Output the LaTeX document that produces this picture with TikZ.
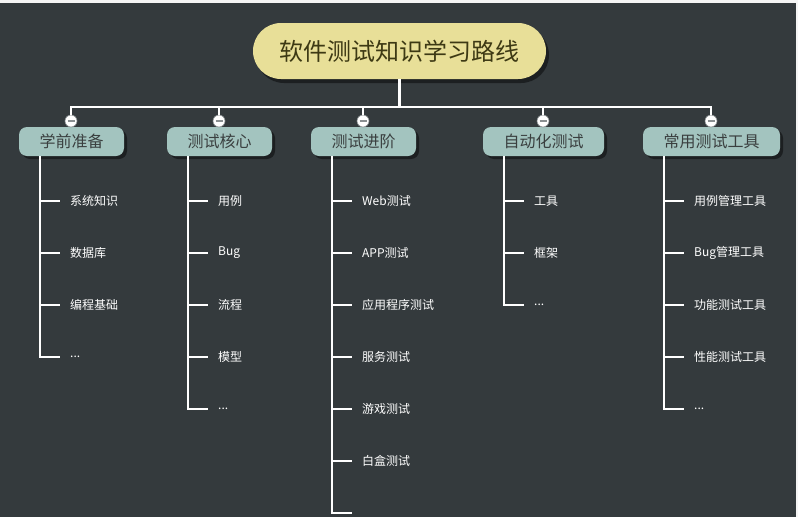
\documentclass[tikz,border=0pt]{standalone}
\usepackage{fontspec}
\setmainfont{Noto Sans CJK SC}
\usetikzlibrary{shadows}
\definecolor{bgc}{HTML}{343A3D}
\definecolor{rootc}{HTML}{E8DF98}
\definecolor{roott}{HTML}{3D3914}
\definecolor{topicc}{HTML}{A3C4BF}
\definecolor{topict}{HTML}{3A3F3F}
\definecolor{minusc}{HTML}{8A8F91}
\def\tdots{...}
\tikzset{
  rootbox/.style={fill=rootc, text=roott, rounded corners=28pt, minimum width=293pt, minimum height=56pt, inner sep=0pt, font=\fontsize{24}{26}\selectfont, drop shadow={shadow xshift=3pt, shadow yshift=-4pt, fill=black, opacity=0.45}},
  topicbox/.style={fill=topicc, text=topict, rounded corners=8pt, minimum height=29pt, inner sep=0pt, font=\fontsize{16}{18}\selectfont, drop shadow={shadow xshift=3pt, shadow yshift=-3pt, fill=black, opacity=0.45}},
  leaf/.style={anchor=west, text=white, inner sep=0pt, font=\fontsize{12}{14}\selectfont},
  conn/.style={draw=white, line width=2.2pt},
  fold/.style={circle, fill=white, draw=minusc, line width=0.6pt, minimum size=12pt, inner sep=0pt,
    path picture={\draw[minusc, line width=1.3pt] ([xshift=-3.5pt]path picture bounding box.center) -- ([xshift=3.5pt]path picture bounding box.center);}}
}
\begin{document}
\begin{tikzpicture}[x=1pt, y=-1pt]
\useasboundingbox (0,0) rectangle (798,517);
\fill[bgc] (0,0) rectangle (798,517);
\fill[white!92!gray] (0,0) rectangle (798,3);
\fill[white!92!gray] (796,0) rectangle (798,517);

% root
\node[rootbox] (root) at (399.5,51) {软件测试知识学习路线};

% topics
\node[topicbox, minimum width=105pt] (t1) at (71.5,141.5) {学前准备};
\node[topicbox, minimum width=105pt] (t2) at (219.5,141.5) {测试核心};
\node[topicbox, minimum width=105pt] (t3) at (363.5,141.5) {测试进阶};
\node[topicbox, minimum width=121pt] (t4) at (543.5,141.5) {自动化测试};
\node[topicbox, minimum width=137pt] (t5) at (711.5,141.5) {常用测试工具};

% fold circles
\node[fold] (f1) at (71,121) {};
\node[fold] (f2) at (219,121) {};
\node[fold] (f3) at (363,121) {};
\node[fold] (f4) at (543,121) {};
\node[fold] (f5) at (711,121) {};

% root connectors
\coordinate (hub) at (399.5,107);
\draw[conn] (root.south) -- (hub);
\draw[conn] (hub) -| (f1.north);
\draw[conn] (hub) -| (f2.north);
\draw[conn] (hub) -| (f3.north);
\draw[conn] (hub) -| (f4.north);
\draw[conn] (hub) -| (f5.north);

% children of t1
\coordinate (v1) at (40,357);
\draw[conn] (t1.south -| v1) -- (v1);
\foreach \t [count=\i] in {系统知识,数据库,编程基础,\tdots}{
  \node[leaf] (a\i) at (70,149+52*\i) {\t};
  \draw[conn] ([xshift=-31pt]a\i.west) -- ([xshift=-10pt]a\i.west);
}

% children of t2
\coordinate (v2) at (188,409);
\draw[conn] (t2.south -| v2) -- (v2);
\foreach \t [count=\i] in {用例,Bug,流程,模型,\tdots}{
  \node[leaf] (b\i) at (218,149+52*\i) {\t};
  \draw[conn] ([xshift=-31pt]b\i.west) -- ([xshift=-10pt]b\i.west);
}

% children of t3
\coordinate (v3) at (332,513);
\draw[conn] (t3.south -| v3) -- (v3);
\foreach \t [count=\i] in {Web测试,APP测试,应用程序测试,服务测试,游戏测试,白盒测试}{
  \node[leaf] (c\i) at (362,149+52*\i) {\t};
  \draw[conn] ([xshift=-31pt]c\i.west) -- ([xshift=-10pt]c\i.west);
}
\coordinate (c7) at (352,513);
\draw[conn] ([xshift=-21pt]c7) -- (c7);

% children of t4
\coordinate (v4) at (504,305);
\draw[conn] (t4.south -| v4) -- (v4);
\foreach \t [count=\i] in {工具,框架,\tdots}{
  \node[leaf] (d\i) at (534,149+52*\i) {\t};
  \draw[conn] ([xshift=-31pt]d\i.west) -- ([xshift=-10pt]d\i.west);
}

% children of t5
\coordinate (v5) at (664,409);
\draw[conn] (t5.south -| v5) -- (v5);
\foreach \t [count=\i] in {用例管理工具,Bug管理工具,功能测试工具,性能测试工具,\tdots}{
  \node[leaf] (e\i) at (694,149+52*\i) {\t};
  \draw[conn] ([xshift=-31pt]e\i.west) -- ([xshift=-10pt]e\i.west);
}
\end{tikzpicture}
\end{document}
